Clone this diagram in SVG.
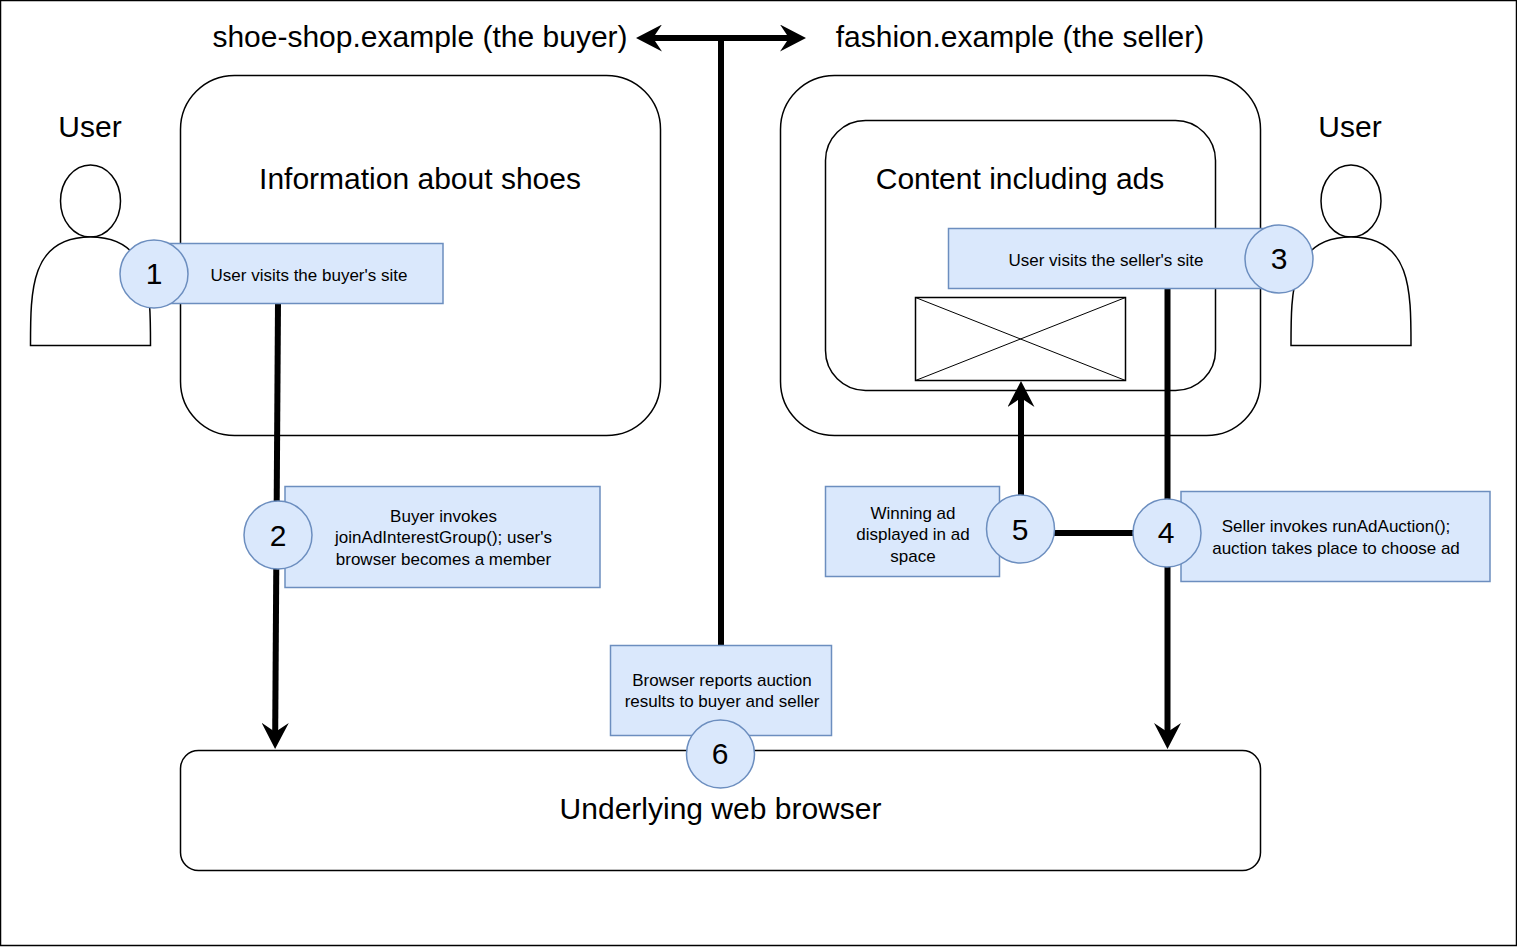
<svg xmlns="http://www.w3.org/2000/svg" width="1517" height="947" viewBox="0 0 1517 947">
<style>
text{font-family:"Liberation Sans",Arial,sans-serif;fill:#000;text-anchor:middle}
.big{font-size:30px}.num{font-size:30px}.sm{font-size:17px}
.box{fill:#fff;stroke:#000;stroke-width:1.5}
.note{fill:#dae8fc;stroke:#6c8ebf;stroke-width:1.5}
.conn{fill:none;stroke:#000;stroke-width:6}
</style>
<defs>
<marker id="arrow" viewBox="0 0 26 27" markerUnits="userSpaceOnUse" markerWidth="26" markerHeight="27" refX="9" refY="13.5" orient="auto-start-reverse">
<path d="M26 13.5 0 0 9 13.5 0 27Z" fill="#000"/>
</marker>
<g id="person"><ellipse cx="0" cy="201" rx="30" ry="36" class="box"/><path d="M-60 345.5C-60 290-60 237 0 237S60 290 60 345.5Z" class="box"/></g>
</defs>
<rect id="frame" x="0.5" y="0.5" width="1516" height="945" fill="#fff" stroke="#000" stroke-width="1.5"/>
<g id="buyer-title"><text class="big" x="420" y="47">shoe-shop.example (the buyer)</text></g>
<g id="seller-title"><text class="big" x="1020" y="47">fashion.example (the seller)</text></g>
<g id="user-left"><use href="#person" x="90.5"/><text class="big" x="90" y="137">User</text></g>
<g id="user-right"><use href="#person" x="1351"/><text class="big" x="1350" y="137">User</text></g>
<g id="buyer-site"><rect class="box" x="180.5" y="75.5" width="480" height="360" rx="54"/><text class="big" x="420" y="189">Information about shoes</text></g>
<g id="seller-site"><rect class="box" x="780.5" y="75.5" width="480" height="360" rx="54"/></g>
<g id="content"><rect class="box" x="825.5" y="120.5" width="390" height="270" rx="40"/><text class="big" x="1020" y="189">Content including ads</text></g>
<g id="ad-space"><rect class="box" x="915.5" y="297.5" width="210" height="83"/><path d="M915.5 297.5 1125.5 380.5M1125.5 297.5 915.5 380.5" fill="none" stroke="#000"/></g>
<g id="browser"><rect class="box" x="180.5" y="750.5" width="1080" height="120" rx="18"/><text class="big" x="720.5" y="819">Underlying web browser</text></g>
<g id="connectors">
<path class="conn" d="M278 303 275.2 732" marker-end="url(#arrow)"/>
<path class="conn" d="M1167.5 288V732" marker-end="url(#arrow)"/>
<path class="conn" d="M1021 497V398" marker-end="url(#arrow)"/>
<path class="conn" d="M1054 533H1134"/>
<path class="conn" d="M721 645V38"/>
<path class="conn" d="M653 38H789" marker-start="url(#arrow)" marker-end="url(#arrow)"/>
</g>
<g id="step1"><rect class="note" x="154" y="243.5" width="289" height="60"/><circle class="note" cx="154" cy="274" r="34"/><text class="num" x="154" y="284">1</text><text class="sm" x="309" y="281">User visits the buyer's site</text></g>
<g id="step2"><rect class="note" x="285" y="486.5" width="315" height="101"/><circle class="note" cx="278" cy="535" r="34"/><text class="num" x="278" y="546">2</text><text class="sm" x="443.500" y="522">Buyer invokes</text><text class="sm" x="443.500" y="543">joinAdInterestGroup(); user's</text><text class="sm" x="443.500" y="565">browser becomes a member</text></g>
<g id="step3"><rect class="note" x="948.500" y="228.500" width="331" height="60"/><circle class="note" cx="1279" cy="259" r="34"/><text class="num" x="1279" y="269">3</text><text class="sm" x="1106" y="266">User visits the seller's site</text></g>
<g id="step4"><rect class="note" x="1181" y="491.500" width="309" height="90"/><circle class="note" cx="1167" cy="533" r="34"/><text class="num" x="1166" y="543">4</text><text class="sm" x="1336" y="532">Seller invokes runAdAuction();</text><text class="sm" x="1336" y="554">auction takes place to choose ad</text></g>
<g id="step5"><rect class="note" x="825.500" y="486.500" width="174" height="90"/><circle class="note" cx="1020.500" cy="529" r="34"/><text class="num" x="1020" y="540">5</text><text class="sm" x="913" y="519">Winning ad</text><text class="sm" x="913" y="540">displayed in ad</text><text class="sm" x="913" y="562">space</text></g>
<g id="step6"><rect class="note" x="610.500" y="645.500" width="221" height="90"/><circle class="note" cx="720.500" cy="754" r="34"/><text class="num" x="720" y="764">6</text><text class="sm" x="722" y="686">Browser reports auction</text><text class="sm" x="722" y="707">results to buyer and seller</text></g>
</svg>
